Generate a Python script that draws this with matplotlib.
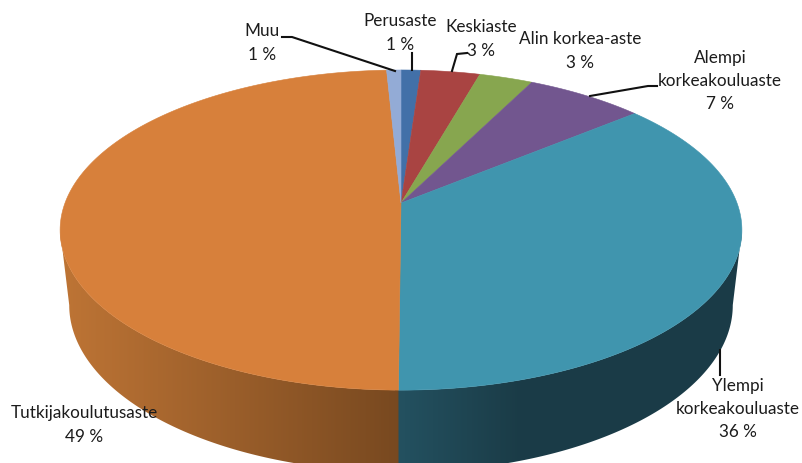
import numpy as np
import matplotlib
matplotlib.use('Agg')
import matplotlib.pyplot as plt
from matplotlib.patches import Polygon

# share of each slice, going clockwise from 12 o'clock
names = ['Perusaste', 'Keskiaste', 'Alin korkea-aste', 'Alempi\nkorkeakouluaste',
         'Ylempi\nkorkeakouluaste', 'Tutkijakoulutusaste', 'Muu']
values = [1.1, 3.3, 3.0, 6.6, 36.1, 49.1, 0.8]
shown = ['1 %', '3 %', '3 %', '7 %', '36 %', '49 %', '1 %']
top_colors = ['#4270a8', '#a94442', '#87a64f', '#72568f', '#4095ae', '#d7803b', '#93abd6']

# label centres in pixels
label_pos = [(400, 33), (481, 39), (580, 51), (720, 81), (738, 409), (84, 425), (262, 43)]

# leader lines in pixels
leaders = [[(282, 37), (292, 37), (395, 71)],
           [(412, 53), (412, 70)],
           [(467, 53), (457, 54), (452, 71)],
           [(657, 86), (648, 86), (590, 96)],
           [(720, 350), (720, 375)]]

K = 0.169  # perspective of the tilted disc


def project(theta, a, b, cy, cx=401):
    # theta clockwise from top, radians
    X = np.sin(theta)
    Y = np.cos(theta)
    w = 1 + K * Y
    return cx + a * X / w, cy - b * Y / w


fig = plt.figure(figsize=(8.03, 4.63), dpi=100)
ax = fig.add_axes([0, 0, 1, 1])

edges = np.cumsum([0] + values) / sum(values) * 2 * np.pi


def wall(t0, t1, x0, x1, stops):
    # front wall: horizontal gradient clipped to the rim outline
    th = np.linspace(t0, t1, 300)
    xt, yt = project(th, 336, 155.5, 203)
    xb, yb = project(th, 327, 162, 277)
    outline = Polygon(np.c_[np.r_[xt, xb[::-1]], np.r_[yt, yb[::-1]]],
                      closed=True, transform=ax.transData, fc='none', ec='none')
    ax.add_patch(outline)
    xs = np.linspace(0, 1, 256)
    pos, cols = zip(*stops)
    grad = np.stack([np.interp(xs, pos, [c[k] for c in cols]) for k in range(3)], axis=1)
    im = ax.imshow(grad[None, :, :], extent=(x0, x1, 480, 100), aspect='auto',
                   interpolation='bilinear', zorder=1)
    im.set_clip_path(outline)


# only the two front slices show a wall, the ends sit on the widest point of the rim
wall(np.radians(99.7), edges[5] + 0.01, 395, 745,
     [(0, (0.14, 0.32, 0.38)), (0.35, (0.105, 0.235, 0.28)), (1, (0.105, 0.235, 0.28))])
wall(edges[5], np.radians(260.3), 55, 400,
     [(0, (0.75, 0.46, 0.21)), (1, (0.47, 0.285, 0.125))])

# top face
for i in range(len(values)):
    th = np.linspace(edges[i], edges[i + 1], 200)
    x, y = project(th, 336, 155.5, 203)
    ax.fill(np.r_[401, x], np.r_[203, y], color=top_colors[i], lw=0.4, zorder=2)

for pts in leaders:
    xs, ys = zip(*pts)
    ax.plot(xs, ys, color='#111111', lw=1.5, zorder=3, solid_joinstyle='miter')

for name, pct, (x, y) in zip(names, shown, label_pos):
    ax.text(x, y, name + '\n' + pct, ha='center', va='center', family='Lato',
            fontsize=12.3, color='#1c1c1c', linespacing=1.56, zorder=4)

ax.set_xlim(0, 803)
ax.set_ylim(463, 0)
ax.axis('off')

fig.savefig('out.png', dpi=100)
